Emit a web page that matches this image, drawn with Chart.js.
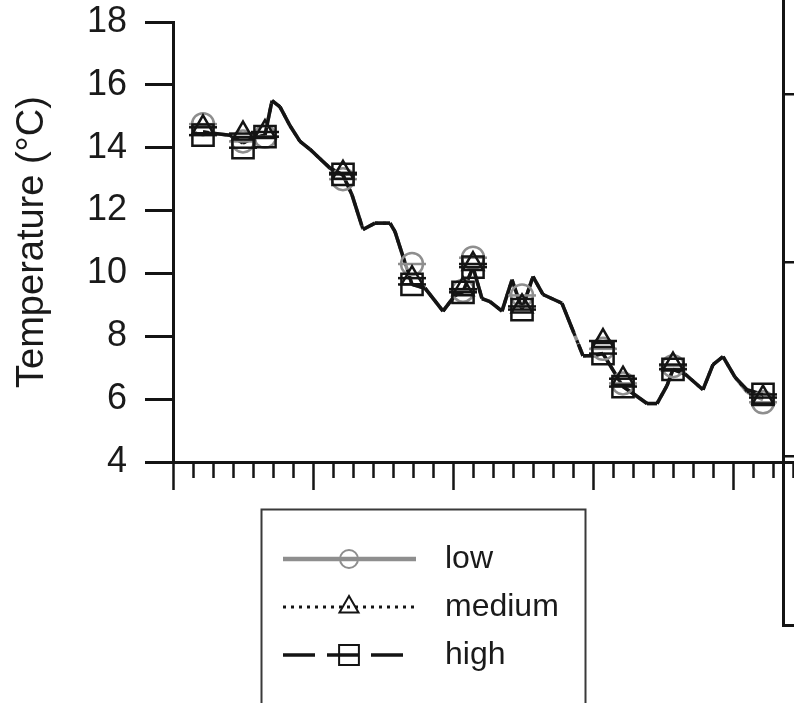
<!DOCTYPE html>
<html>
<head>
<meta charset="utf-8">
<script src="https://cdn.jsdelivr.net/npm/chart.js@4.4.1/dist/chart.umd.min.js"></script>
<style>
  html, body { margin: 0; padding: 0; background: #fff; overflow: hidden; width: 794px; height: 703px; }
  #main { position: absolute; left: 0; top: 0; width: 794px; height: 703px; }
  #side { position: absolute; left: 773px; top: 0; width: 80px; height: 640px; }
</style>
</head>
<body>
<div id="main"><canvas id="chart"></canvas></div>
<div id="side"><canvas id="sidePanel"></canvas></div>
<script>
// Simulated temperature (one path per treatment, nearly coincident)
var lineDays = [1.5, 2.1, 2.85, 3.5, 4.0, 4.6, 4.95, 5.35, 5.85, 6.35, 6.85, 7.35, 7.85, 8.5, 8.95, 9.5, 10.1, 10.85, 11.1,
  11.95, 12.6, 13.5, 14.1, 14.5, 15.0, 15.45, 15.85, 16.45, 16.95, 17.45, 18.0, 18.5, 19.45, 20.5, 21.0, 21.5, 22.5,
  23.0, 23.7, 24.2, 24.7, 25.0, 25.6, 26.5, 27.0, 27.5, 28.1, 28.7, 29.5];
var lineLow = [14.5, 14.45, 14.4, 14.15, 14.3, 14.4, 15.5, 15.3, 14.7, 14.2, 13.95, 13.65, 13.35, 13.13, 12.5, 11.4, 11.6, 11.6, 11.33,
  9.65, 9.53, 8.8, 9.3, 9.42, 10.2, 9.2, 9.1, 8.8, 9.8, 8.87, 9.9, 9.33, 9.05, 7.38, 7.38, 7.45, 6.4,
  6.18, 5.86, 5.86, 6.43, 6.95, 6.8, 6.3, 7.1, 7.35, 6.7, 6.22, 5.98];
var lineMedium = [14.5, 14.45, 14.4, 14.15, 14.3, 14.4, 15.5, 15.3, 14.7, 14.2, 13.95, 13.65, 13.35, 13.13, 12.5, 11.4, 11.6, 11.6, 11.33,
  9.65, 9.53, 8.8, 9.3, 9.42, 10.2, 9.2, 9.1, 8.8, 9.8, 8.87, 9.9, 9.33, 9.05, 7.38, 7.38, 7.45, 6.4,
  6.18, 5.86, 5.86, 6.43, 6.95, 6.8, 6.3, 7.1, 7.35, 6.7, 6.25, 6.05];
var lineHigh = [14.5, 14.45, 14.4, 14.15, 14.3, 14.4, 15.5, 15.3, 14.7, 14.2, 13.95, 13.65, 13.35, 13.13, 12.5, 11.4, 11.6, 11.6, 11.33,
  9.65, 9.53, 8.8, 9.3, 9.42, 10.2, 9.2, 9.1, 8.8, 9.8, 8.87, 9.9, 9.33, 9.05, 7.38, 7.38, 7.45, 6.4,
  6.18, 5.86, 5.86, 6.43, 6.95, 6.8, 6.3, 7.1, 7.35, 6.7, 6.3, 6.15];

// Observed values at sampling days
var obsDays = [1.5, 3.5, 4.6, 8.5, 11.95, 14.5, 15.0, 17.45, 21.5, 22.5, 25.0, 29.5];
var obsLow = [14.75, 14.2, 14.35, 13.0, 10.3, 9.45, 10.5, 9.3, 7.6, 6.5, 7.05, 5.9];
var obsMedium = [14.65, 14.45, 14.5, 13.2, 9.85, 9.5, 10.3, 8.95, 7.85, 6.65, 7.1, 6.05];
var obsHigh = [14.4, 14.0, 14.35, 13.15, 9.65, 9.4, 10.2, 8.85, 7.45, 6.4, 6.95, 6.15];

var seriesNames = ['low', 'medium', 'high'];
var dayTicks = [];
for (var d = 0; d <= 31; d++) dayTicks.push(d);
var yMin = 4, yMax = 18, yStep = 2;
var sideTicks = [27, 58, 85];

var FONT = '"Liberation Sans", Arial, Helvetica, sans-serif';
var INK = '#141414';
var GREY = '#8e8e8e';

function pts(xs, ys) {
  return xs.map(function (x, i) { return { x: x, y: ys[i] }; });
}

var styles = [
  { color: GREY, dash: [], width: 3.5, marker: 'circle', r: 11, legendR: 9 },
  { color: INK, dash: [3, 5], width: 3, marker: 'triangle', r: 12, legendR: 11 },
  { color: INK, dash: [32, 12], width: 3.5, marker: 'rect', r: 15, legendR: 14 }
];
var lineSets = [lineLow, lineMedium, lineHigh];
var obsSets = [obsLow, obsMedium, obsHigh];

var datasets = [];
seriesNames.forEach(function (name, i) {
  var s = styles[i];
  datasets.push({
    type: 'line', label: name, data: pts(lineDays, lineSets[i]),
    borderColor: s.color, borderWidth: s.width, borderDash: s.dash,
    pointRadius: 0, tension: 0, fill: false, order: 10 - i,
    // the dash pattern restarts on every short segment, as in the original plot
    segment: { borderDashOffset: function (c) { return c.p0DataIndex % 2 ? 0.01 : 0; } }
  });
  datasets.push({
    type: 'scatter', label: name + ' obs', data: pts(obsDays, obsSets[i]),
    pointStyle: s.marker, pointRadius: s.r, borderColor: s.color, borderWidth: 2.5,
    backgroundColor: 'rgba(0,0,0,0)', order: 3 - i
  });
  datasets.push({
    type: 'scatter', label: name + ' bar', data: pts(obsDays, obsSets[i]),
    pointStyle: 'line', pointRadius: 14, borderColor: s.color, borderWidth: 2.5, order: 3 - i
  });
});

function drawMarker(ctx, style, x, y, r) {
  ctx.beginPath();
  if (style === 'circle') {
    ctx.arc(x, y, r, 0, Math.PI * 2);
  } else if (style === 'triangle') {
    ctx.moveTo(x, y - r);
    ctx.lineTo(x + r * Math.sin(Math.PI * 2 / 3), y + r * 0.5);
    ctx.lineTo(x - r * Math.sin(Math.PI * 2 / 3), y + r * 0.5);
    ctx.closePath();
  } else {
    var h = r * Math.SQRT1_2;
    ctx.rect(x - h, y - h, 2 * h, 2 * h);
  }
  ctx.stroke();
}

// Boxed legend below the plot: line sample with marker in the middle, then the label
var boxLegend = {
  id: 'boxLegend',
  afterDraw: function (chart) {
    var ctx = chart.ctx;
    ctx.save();
    ctx.strokeStyle = '#3a3a3a';
    ctx.lineWidth = 2;
    ctx.strokeRect(261.5, 509.5, 324, 220);
    var rows = [559, 607, 655];
    seriesNames.forEach(function (name, i) {
      var s = styles[i];
      var y = rows[i];
      ctx.strokeStyle = s.color;
      ctx.lineWidth = i === 0 ? 4.5 : s.width;
      ctx.setLineDash(s.dash);
      ctx.beginPath();
      ctx.moveTo(283, y);
      ctx.lineTo(i === 2 ? 403 : 416, y);
      ctx.stroke();
      ctx.setLineDash([]);
      ctx.lineWidth = 2;
      drawMarker(ctx, s.marker, 349, y, s.legendR);
      ctx.fillStyle = '#1a1a1a';
      ctx.font = '32px ' + FONT;
      ctx.textBaseline = 'middle';
      ctx.textAlign = 'left';
      ctx.fillText(name, 445, y);
    });
    ctx.restore();
  }
};

new Chart(document.getElementById('chart'), {
  type: 'line',
  data: { datasets: datasets },
  plugins: [boxLegend],
  options: {
    responsive: true, maintainAspectRatio: false, animation: false, events: [],
    layout: { autoPadding: false, padding: { left: 0, right: 0, top: 22, bottom: 0 } },
    plugins: { legend: { display: false }, tooltip: { enabled: false } },
    scales: {
      x: {
        type: 'linear', min: 0, max: 31.05,
        afterBuildTicks: function (s) { s.ticks = dayTicks.map(function (v) { return { value: v }; }); },
        afterFit: function (s) { s.height = 703 - 462; },
        ticks: { display: false },
        grid: {
          drawOnChartArea: false, tickLength: 28, tickWidth: 2.5, tickColor: INK,
          tickBorderDash: function (c) { return c.tick && c.tick.value % 7 === 0 ? [] : [14, 60]; }
        },
        border: { color: INK, width: 3 }
      },
      y: {
        min: yMin, max: yMax,
        afterFit: function (s) { s.width = 173; s.paddingTop = 0; s.paddingBottom = 0; },
        ticks: { stepSize: yStep, color: '#1a1a1a', padding: 18, font: { family: FONT, size: 36 } },
        grid: { drawOnChartArea: false, tickLength: 28, tickWidth: 3, tickColor: INK },
        border: { color: INK, width: 3 },
        title: {
          display: true, text: 'Temperature (°C)', color: '#1a1a1a',
          font: { family: FONT, size: 38, lineHeight: 1.2 }, padding: { top: 10, bottom: 0 }
        }
      }
    }
  }
});

// Edge of the neighbouring panel, cut off at the right border
new Chart(document.getElementById('sidePanel'), {
  type: 'scatter',
  data: { datasets: [] },
  options: {
    responsive: true, maintainAspectRatio: false, animation: false, events: [],
    layout: { padding: 0 },
    plugins: { legend: { display: false }, tooltip: { enabled: false } },
    scales: {
      x: {
        min: 0, max: 1, ticks: { display: false },
        grid: { display: false },
        border: { color: INK, width: 3 },
        afterFit: function (s) { s.height = 15; }
      },
      y: {
        min: 0, max: 100,
        afterBuildTicks: function (s) { s.ticks = sideTicks.map(function (v) { return { value: v }; }); },
        afterFit: function (s) { s.width = 10; },
        ticks: { display: false },
        grid: { drawOnChartArea: true, drawTicks: false, color: INK, lineWidth: 2.5 },
        border: { color: INK, width: 3 }
      }
    }
  }
});
</script>
</body>
</html>
